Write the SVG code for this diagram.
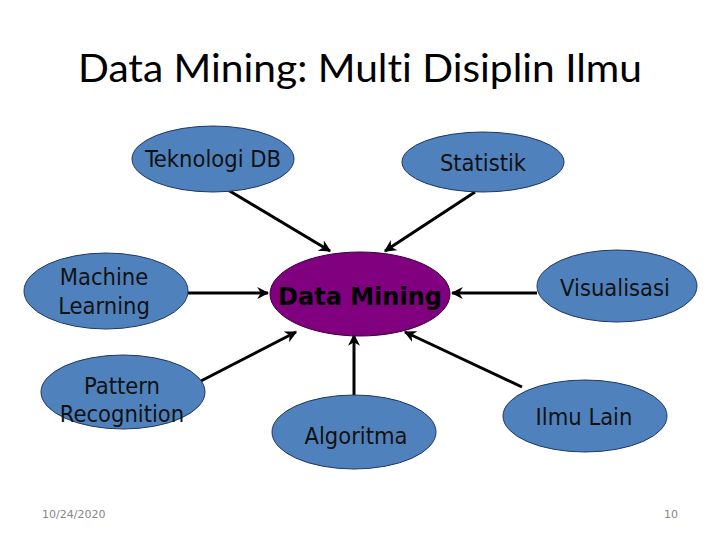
<svg xmlns="http://www.w3.org/2000/svg" width="720" height="540" viewBox="0 0 720 540">
<defs>
<marker id="ah" viewBox="0 0 10 10" refX="9" refY="5" markerWidth="4" markerHeight="4" orient="auto" markerUnits="strokeWidth">
<path d="M0,0 L10,5 L0,10 L3,5 Z" fill="#000"/>
</marker>
<style>
.n{fill:#4F81BD;stroke:#1F3763;stroke-width:1}
.c{fill:#800080;stroke:#3a003a;stroke-width:1}
.t{font-family:"DejaVu Sans Condensed","DejaVu Sans",sans-serif;font-stretch:condensed;font-size:23.5px;fill:#111;text-anchor:middle}
.b{font-family:"DejaVu Sans",Verdana,sans-serif;font-size:24px;font-weight:bold;fill:#000;text-anchor:middle}
.e{stroke:#000;stroke-width:3;fill:none;marker-end:url(#ah)}
.f{font-family:"DejaVu Sans",Verdana,sans-serif;font-size:11px;fill:#888}
.title{font-family:Lato,"Open Sans",sans-serif;font-size:38px;fill:#000;text-anchor:middle;font-variant-ligatures:none;font-feature-settings:"liga" 0}
</style>
</defs>
<rect width="720" height="540" fill="#fff"/>
<text class="title" x="360" y="82" textLength="564" lengthAdjust="spacingAndGlyphs">Data Mining: Multi Disiplin Ilmu</text>
<g id="connectors">
<line class="e" x1="228" y1="190" x2="330" y2="251"/>
<line class="e" x1="475" y1="192" x2="385" y2="251"/>
<line class="e" x1="188" y1="293" x2="268" y2="293"/>
<line class="e" x1="537" y1="293" x2="452" y2="293"/>
<line class="e" x1="197" y1="383" x2="296" y2="332"/>
<line class="e" x1="354" y1="400" x2="354" y2="335"/>
<line class="e" x1="522" y1="387" x2="405" y2="332"/>
</g>
<g id="teknologi-db"><ellipse class="n" cx="213" cy="159" rx="81" ry="33"/><text class="t" x="213" y="167">Teknologi DB</text></g>
<g id="statistik"><ellipse class="n" cx="483" cy="162" rx="81" ry="30"/><text class="t" x="483" y="171">Statistik</text></g>
<g id="data-mining"><ellipse class="c" cx="360" cy="294" rx="90" ry="42"/><text class="b" x="360" y="305">Data Mining</text></g>
<g id="machine-learning"><ellipse class="n" cx="106" cy="291" rx="82" ry="38"/><text class="t" x="104" y="285">Machine</text><text class="t" x="104" y="314">Learning</text></g>
<g id="visualisasi"><ellipse class="n" cx="617" cy="286" rx="80" ry="36"/><text class="t" x="615" y="296">Visualisasi</text></g>
<g id="pattern-recognition"><ellipse class="n" cx="123" cy="392" rx="82" ry="37"/><text class="t" x="122" y="394">Pattern</text><text class="t" x="122" y="422">Recognition</text></g>
<g id="algoritma"><ellipse class="n" cx="354" cy="432" rx="82" ry="37"/><text class="t" x="356" y="444">Algoritma</text></g>
<g id="ilmu-lain"><ellipse class="n" cx="585" cy="416" rx="82" ry="36"/><text class="t" x="584" y="425">Ilmu Lain</text></g>
<text class="f" x="42" y="518">10/24/2020</text>
<text class="f" x="664" y="518">10</text>
</svg>
